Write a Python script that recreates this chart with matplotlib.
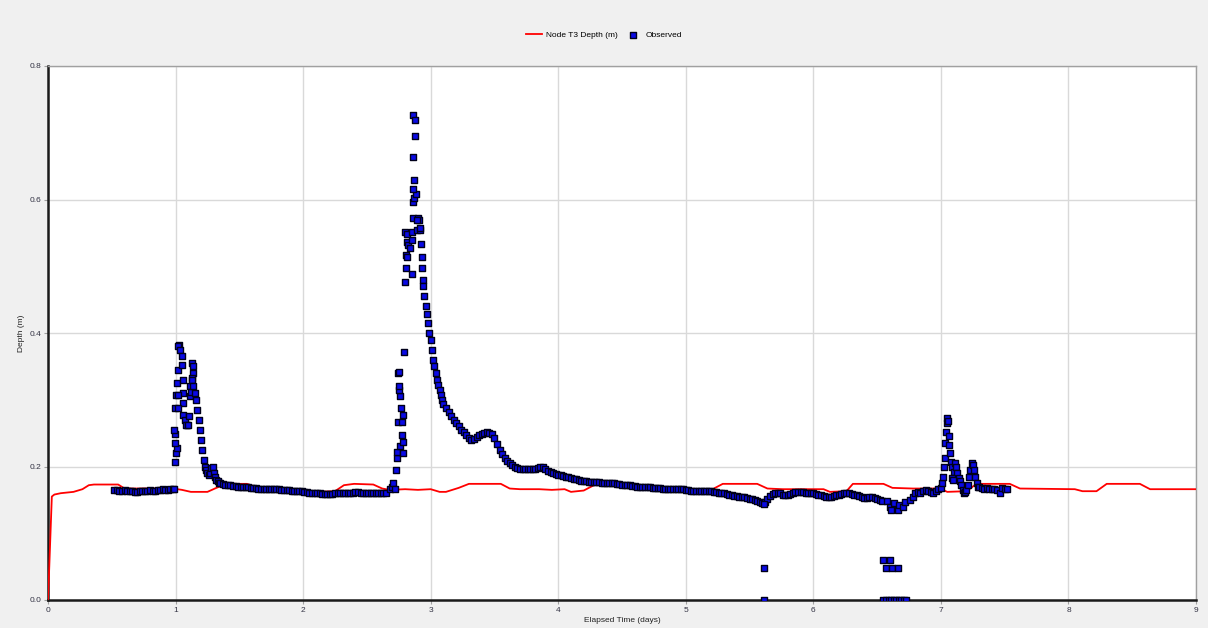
import numpy as np
import matplotlib
matplotlib.use("Agg")
import matplotlib.pyplot as plt

# ---------------- data ----------------
x_ticks = [0, 1, 2, 3, 4, 5, 6, 7, 8, 9]
y_ticks = [0.0, 0.2, 0.4, 0.6, 0.8]

# simulated node depth (polyline vertices)
red_t = [0, 0.01, 0.03, 0.05, 0.10, 0.20, 0.27, 0.32, 0.36, 0.55, 0.60, 0.65, 0.98,
         1.05, 1.12, 1.25, 1.32, 1.40, 1.56, 1.62, 1.70, 1.95, 2.05, 2.12, 2.25, 2.32,
         2.40, 2.55, 2.62, 2.68, 2.80, 2.90, 3.00, 3.07, 3.12, 3.22, 3.30, 3.55, 3.62,
         3.70, 3.85, 3.95, 4.05, 4.10, 4.20, 4.30, 4.55, 4.62, 4.70, 5.05, 5.12, 5.20,
         5.29, 5.56, 5.64, 5.76, 6.08, 6.13, 6.26, 6.31, 6.55, 6.62, 6.78, 6.99, 7.05,
         7.20, 7.28, 7.54, 7.62, 8.05, 8.11, 8.22, 8.30, 8.56, 8.64, 9.0]
red_y = [0.0, 0.05, 0.155, 0.158, 0.160, 0.162, 0.166, 0.172, 0.173, 0.173, 0.167, 0.167, 0.167,
         0.165, 0.162, 0.162, 0.168, 0.174, 0.174, 0.170, 0.167, 0.166, 0.163, 0.162, 0.163, 0.172,
         0.174, 0.173, 0.167, 0.165, 0.166, 0.165, 0.166, 0.162, 0.162, 0.168, 0.174, 0.174, 0.167,
         0.166, 0.166, 0.165, 0.166, 0.162, 0.164, 0.174, 0.174, 0.168, 0.167, 0.166, 0.162, 0.165,
         0.174, 0.174, 0.167, 0.166, 0.166, 0.162, 0.163, 0.174, 0.174, 0.168, 0.167, 0.167, 0.162,
         0.163, 0.174, 0.174, 0.167, 0.166, 0.163, 0.163, 0.174, 0.174, 0.166, 0.166]

# observed depth, regular-interval segments (start, step, values)
base1_start, base1_step = 0.52, 0.02
base1_y = [0.165, 0.165, 0.164, 0.164, 0.165, 0.164, 0.163, 0.163, 0.162, 0.162,
           0.163, 0.163, 0.164, 0.164, 0.165, 0.164, 0.164, 0.165, 0.165, 0.166,
           0.165, 0.165, 0.166, 0.166]

peak1_t = [0.988, 0.996, 1.004, 1.009, 0.992, 0.996, 0.990, 0.996, 1.004, 1.014, 1.022, 1.030,
           1.022, 1.035, 1.048, 1.048, 1.061, 1.056, 1.022, 1.061, 1.022, 1.061, 1.074, 1.087,
           1.082, 1.100, 1.108, 1.126, 1.139, 1.139, 1.126, 1.113, 1.113, 1.120]
peak1_y = [0.166, 0.206, 0.220, 0.227, 0.235, 0.248, 0.255, 0.287, 0.307, 0.325, 0.345, 0.382,
           0.380, 0.375, 0.365, 0.352, 0.310, 0.330, 0.307, 0.295, 0.287, 0.277, 0.270, 0.262,
           0.262, 0.262, 0.276, 0.355, 0.350, 0.340, 0.332, 0.320, 0.305, 0.312]

fall1_start, fall1_step = 1.13, 0.01
fall1_y = [0.330, 0.320, 0.310, 0.300, 0.285, 0.270, 0.255, 0.240, 0.225, 0.210,
           0.200, 0.195, 0.190, 0.188, 0.190, 0.198, 0.200, 0.190, 0.184, 0.180,
           0.178, 0.176, 0.175]

base2_start, base2_step = 1.37, 0.02
base2_y = [0.174, 0.173, 0.172, 0.172, 0.171, 0.171, 0.170, 0.170, 0.169, 0.169,
           0.169, 0.168, 0.168, 0.168, 0.167, 0.167, 0.167, 0.167, 0.166, 0.166,
           0.166, 0.166, 0.166, 0.165, 0.165, 0.165, 0.165, 0.164, 0.164, 0.164,
           0.163, 0.163, 0.162, 0.162, 0.161, 0.161, 0.160, 0.160, 0.160, 0.159,
           0.159, 0.159, 0.159, 0.159, 0.160, 0.160, 0.160, 0.161, 0.161, 0.161,
           0.161, 0.161, 0.162, 0.162, 0.161, 0.161, 0.161, 0.161, 0.161, 0.160,
           0.160, 0.160, 0.160, 0.160, 0.161]

peak2_t = [2.681, 2.695, 2.707, 2.720, 2.728, 2.733, 2.738, 2.759, 2.786, 2.781, 2.773, 2.747,
           2.773, 2.786, 2.765, 2.759, 2.754, 2.754, 2.747, 2.754, 2.794,
           2.799, 2.812, 2.812, 2.825, 2.838, 2.807, 2.817, 2.807, 2.799, 2.851, 2.851,
           2.859, 2.890, 2.903, 2.911, 2.916, 2.857, 2.890, 2.859, 2.872, 2.885, 2.864,
           2.872, 2.864, 2.877, 2.916, 2.924, 2.929, 2.935, 2.937]
peak2_y = [0.167, 0.170, 0.175, 0.167, 0.195, 0.212, 0.222, 0.230, 0.237, 0.220, 0.247, 0.267,
           0.267, 0.277, 0.287, 0.305, 0.315, 0.320, 0.340, 0.342, 0.372,
           0.552, 0.549, 0.537, 0.532, 0.527, 0.517, 0.514, 0.497, 0.477, 0.489, 0.552,
           0.572, 0.554, 0.572, 0.569, 0.554, 0.540, 0.570, 0.597, 0.602, 0.608, 0.615,
           0.629, 0.663, 0.695, 0.557, 0.534, 0.514, 0.497, 0.479]
peak2_top_t = [2.864, 2.877]
peak2_top_y = [0.727, 0.719]

fall2a_start, fall2a_step = 2.94, 0.01
fall2a_y = [0.470, 0.455, 0.440, 0.428, 0.415, 0.400, 0.390, 0.375, 0.360, 0.350,
            0.340, 0.330, 0.322, 0.315, 0.307, 0.300, 0.294]

fall2b_start, fall2b_step = 3.12, 0.02
fall2b_y = [0.288, 0.281, 0.275, 0.270, 0.265, 0.260, 0.255, 0.251, 0.247, 0.243,
            0.240, 0.241, 0.244, 0.247, 0.249, 0.250, 0.251, 0.250, 0.248, 0.242,
            0.233, 0.225, 0.218, 0.213, 0.208, 0.205, 0.202, 0.200, 0.198, 0.197,
            0.197, 0.197, 0.197, 0.196, 0.196, 0.197, 0.198, 0.199, 0.199, 0.197,
            0.194, 0.192, 0.190, 0.189, 0.188, 0.187, 0.186, 0.185, 0.184, 0.183,
            0.182, 0.181, 0.180, 0.179, 0.178, 0.178, 0.177, 0.177, 0.177, 0.177,
            0.177, 0.176, 0.176, 0.176, 0.175, 0.175, 0.175, 0.174, 0.174, 0.173,
            0.173, 0.172, 0.172, 0.171, 0.171, 0.170, 0.170, 0.170, 0.169, 0.169,
            0.169, 0.168, 0.168, 0.168, 0.168, 0.167, 0.167, 0.167, 0.166, 0.166,
            0.166, 0.166, 0.166, 0.166, 0.165, 0.165, 0.164, 0.164, 0.163, 0.163,
            0.163, 0.164, 0.164, 0.163, 0.163, 0.162, 0.162, 0.161, 0.161, 0.160,
            0.159, 0.158, 0.157, 0.156, 0.156, 0.155, 0.155, 0.154, 0.153, 0.152,
            0.151, 0.150, 0.148, 0.147, 0.145, 0.147, 0.152, 0.156, 0.159, 0.160,
            0.160, 0.160, 0.158, 0.157, 0.157, 0.159, 0.161, 0.162, 0.162, 0.162,
            0.162, 0.161, 0.161, 0.160, 0.160, 0.159, 0.158, 0.157, 0.156, 0.155,
            0.155, 0.155, 0.156, 0.157, 0.158, 0.159, 0.160, 0.160, 0.160, 0.159,
            0.158, 0.157, 0.156, 0.154, 0.153, 0.153, 0.154, 0.155, 0.153, 0.151,
            0.150, 0.149]

# scattered / outlier readings
scatter_t = [5.61, 5.61, 5.61, 6.55, 6.60, 6.57, 6.62, 6.66, 6.55, 6.57, 6.59, 6.61, 6.63,
             6.65, 6.67, 6.69, 6.71, 6.73, 6.58, 6.60, 6.61, 6.63, 6.66, 6.67, 6.70, 6.72]
scatter_y = [0.144, 0.048, 0.0, 0.060, 0.060, 0.048, 0.048, 0.048, 0.0, 0.0, 0.0, 0.0, 0.0,
             0.0, 0.0, 0.0, 0.0, 0.0, 0.148, 0.140, 0.135, 0.145, 0.135, 0.142, 0.140, 0.147]

rise3_start, rise3_step = 6.76, 0.02
rise3_y = [0.150, 0.155, 0.160, 0.162, 0.161, 0.163, 0.165, 0.163, 0.162, 0.160,
           0.163, 0.166, 0.168]

peak3_t = [7.010, 7.020, 7.025, 7.030, 7.035, 7.040, 7.045, 7.050, 7.055, 7.060, 7.065,
           7.070, 7.080, 7.090, 7.100, 7.110, 7.120, 7.130, 7.140, 7.150, 7.160, 7.170,
           7.180, 7.190, 7.200, 7.210, 7.220, 7.230, 7.240, 7.250, 7.260, 7.270, 7.280,
           7.290, 7.300, 7.090, 7.095]
peak3_y = [0.175, 0.185, 0.200, 0.212, 0.235, 0.252, 0.265, 0.272, 0.268, 0.245, 0.232,
           0.220, 0.207, 0.200, 0.192, 0.205, 0.200, 0.190, 0.183, 0.178, 0.172, 0.165,
           0.160, 0.162, 0.165, 0.172, 0.185, 0.195, 0.205, 0.202, 0.195, 0.185, 0.175,
           0.170, 0.169, 0.183, 0.180]

tail_start, tail_step = 7.32, 0.02
tail_y = [0.168, 0.167, 0.168, 0.167, 0.166, 0.167, 0.165, 0.160, 0.168, 0.166, 0.167]


def seg(start, step, vals):
    return start + step * np.arange(len(vals)), np.asarray(vals)


parts = [seg(base1_start, base1_step, base1_y),
         (np.asarray(peak1_t), np.asarray(peak1_y)),
         seg(fall1_start, fall1_step, fall1_y),
         seg(base2_start, base2_step, base2_y),
         (np.asarray(peak2_t), np.asarray(peak2_y)),
         (np.asarray(peak2_top_t), np.asarray(peak2_top_y)),
         seg(fall2a_start, fall2a_step, fall2a_y),
         seg(fall2b_start, fall2b_step, fall2b_y),
         (np.asarray(scatter_t), np.asarray(scatter_y)),
         seg(rise3_start, rise3_step, rise3_y),
         (np.asarray(peak3_t), np.asarray(peak3_y)),
         seg(tail_start, tail_step, tail_y)]
obs_t = np.concatenate([p[0] for p in parts])
obs_y = np.concatenate([p[1] for p in parts])

# ---------------- figure ----------------
plt.rcParams['font.family'] = ['Liberation Sans', 'DejaVu Sans']
fig = plt.figure(figsize=(12.08, 6.28), dpi=100, facecolor='#F0F0F0')
ax = fig.add_axes([48 / 1208, 28 / 628, 1148 / 1208, 534 / 628])
ax.set_facecolor('white')

ax.plot(red_t, red_y, color='#FF0000', lw=1.3, zorder=3, label='Node T3 Depth (m)')
ax.scatter(obs_t, obs_y, marker='s', s=24, facecolor='#0A0AE6', edgecolor='#00001A',
           linewidths=1.0, zorder=4, label='Observed')

ax.set_xlim(0, 9)
ax.set_ylim(0, 0.8)
ax.set_xticks(x_ticks)
ax.set_xticklabels([str(v) for v in x_ticks])
ax.set_yticks(y_ticks)
ax.set_yticklabels([f"{v:.1f}" for v in y_ticks])
ax.grid(True, color='#D9D9D9', lw=1)
ax.set_axisbelow(True)

for s in ['left', 'bottom']:
    ax.spines[s].set_color('#1A1A1A')
    ax.spines[s].set_linewidth(1.8)
for s in ['top', 'right']:
    ax.spines[s].set_color('#A0A0A0')
    ax.spines[s].set_linewidth(1.0)

ax.tick_params(direction='out', length=3, width=0.8, color='#A0A0A0',
               labelsize=6, labelcolor='#333344', pad=2)

ax.set_xlabel('Elapsed Time (days)', fontsize=6, color='#222222', labelpad=2)
ax.set_ylabel('Depth (m)', fontsize=6, color='#222222', labelpad=3)

fig.legend(loc='center', bbox_to_anchor=(0.5, 1 - 35 / 628), ncol=2, frameon=False,
           fontsize=6, handlelength=1.9, columnspacing=0.9, handletextpad=0.5,
           markerscale=0.9)

fig.savefig('out.png', dpi=100, facecolor=fig.get_facecolor())
